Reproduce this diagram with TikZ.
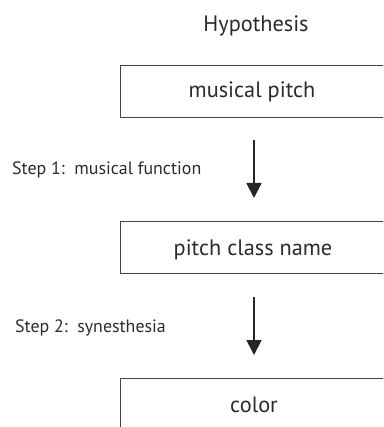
\documentclass[tikz,border=0pt]{standalone}
\usepackage{fontspec}
\setmainfont{PT Sans}
\usetikzlibrary{arrows.meta}
\definecolor{ink}{HTML}{2B2B2B}
\definecolor{boxline}{HTML}{444444}
\begin{document}
\begin{tikzpicture}[x=1pt,y=-1pt,
  lbl/.style={inner sep=0pt, text=ink, font=\fontsize{22.3}{26}\selectfont},
  steplbl/.style={inner sep=0pt, text=ink, anchor=base west, font=\fontsize{17.9}{20}\selectfont},
  flowbox/.style={draw=boxline, line width=1.1pt, minimum width=300pt, minimum height=52pt, anchor=north west, inner sep=0pt},
  flowarrow/.style={line width=1.8pt, draw=black!85, -{Triangle[length=15pt,width=15pt]}}]
\useasboundingbox (0,0) rectangle (383,427);
\clip (0,0) rectangle (383,427);
\node[lbl, anchor=base] (hyp) at (256,32) {Hypothesis};
\node[flowbox] (b1) at (120,65) {};
\node[lbl, anchor=base] (t1) at (252,98) {musical pitch};
\node[flowbox] (b2) at (120,221) {};
\node[lbl, anchor=base] (t2) at (253,255) {pitch class name};
\node[flowbox] (b3) at (120,378) {};
\node[lbl, anchor=base] (t3) at (254,412) {color};
\coordinate (a1s) at (254,140);
\coordinate (a1e) at (254,198);
\coordinate (a2s) at (254,297);
\coordinate (a2e) at (254,355);
\draw[flowarrow] (a1s) -- (a1e);
\draw[flowarrow] (a2s) -- (a2e);
\node[steplbl] (s1) at (12,175) {Step 1:\ \ musical function};
\node[steplbl] (s2) at (15,332) {Step 2:\ \ synesthesia};
\end{tikzpicture}
\end{document}
